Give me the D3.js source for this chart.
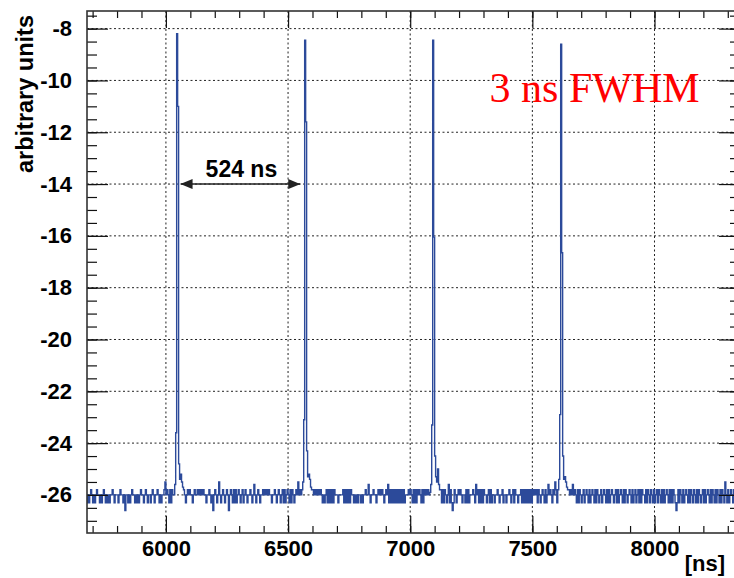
<!DOCTYPE html>
<html>
<head>
<meta charset="utf-8">
<script src="https://cdn.jsdelivr.net/npm/d3@7"></script>
<style>
  body { margin: 0; background: #fff; }
  svg { display: block; }
  .tick text { font-family: "Liberation Sans", Arial, sans-serif; font-weight: bold; font-size: 22px; fill: #000; }
</style>
</head>
<body>
<div id="plot-container"></div>
<script>
// histogram binning
var binStart = 5676;
var binWidth = 4;
var baseline = -26;

// baseline noise, in tenths of a unit above/below the baseline, one per bin
var noise = [
  -3,0,-3,0,2,0,-3,0,-3,0,2,0,0,-3,0,-3,0,2,0,-3,
  0,-3,0,-3,0,0,2,0,-3,0,0,0,-3,0,2,0,0,-3,0,-6,
  0,0,-3,0,-3,0,2,0,0,-3,0,-3,0,-3,0,2,0,0,-3,0,
  2,0,-3,0,0,-3,0,2,0,-3,0,0,2,0,-3,0,-3,0,0,2,
  5,0,2,0,-3,2,-3,2,0,-3,0,0,0,0,0,0,0,0,0,0,
  0,-3,0,2,0,2,0,0,-3,0,2,0,0,2,0,2,0,2,0,2,
  0,0,-3,0,0,2,0,-3,0,-6,0,2,0,-3,0,5,0,-3,0,2,
  0,-3,0,2,0,-6,0,2,0,-3,2,-3,2,-3,0,2,0,-3,0,2,
  -3,0,2,0,-3,0,0,2,0,-3,0,4,0,-3,0,2,0,-3,0,0,
  2,0,2,0,2,0,2,0,0,-3,0,0,2,0,-3,0,2,0,-3,0,
  2,-3,2,-3,0,2,0,-3,2,-3,2,0,-3,0,2,0,5,0,2,0,
  0,0,0,0,0,0,0,0,0,0,0,2,0,2,0,2,0,2,0,2,
  0,-3,0,-3,0,2,-3,2,-3,2,-3,2,-3,2,0,0,0,-3,0,0,
  0,0,2,-3,2,-3,2,-3,2,-3,2,0,0,-3,0,-3,0,-3,0,0,
  -3,0,-3,0,0,2,0,0,4,0,-3,0,0,2,0,0,-3,0,2,0,
  2,0,2,0,-3,0,2,0,4,-3,2,-3,2,-3,2,-3,2,-3,2,-3,
  2,-3,2,-3,2,-3,0,0,0,2,0,2,0,-3,2,-3,2,-3,2,0,
  2,0,-3,2,-3,2,0,2,0,2,0,0,0,0,0,0,0,0,0,0,
  0,0,2,-3,2,-3,2,0,-3,0,4,-3,2,-3,-6,-3,2,0,-3,0,
  2,0,2,0,-3,0,0,-3,2,-3,2,-3,0,0,0,2,0,-3,4,0,
  2,-3,2,-3,2,-3,2,0,0,-3,0,2,-3,2,-3,0,0,-3,0,0,
  2,0,-3,0,0,2,-3,0,0,-3,0,0,2,0,-3,0,2,-3,2,0,
  0,-3,0,0,2,-3,2,-3,2,-3,2,-3,2,-3,2,-3,2,0,2,0,
  2,-3,2,0,-3,0,2,0,-3,2,-3,0,4,0,2,0,-3,2,0,5,
  2,-3,0,0,0,0,0,0,0,0,0,0,0,2,0,2,0,4,0,2,
  0,-3,2,-3,2,0,-3,0,2,-3,0,2,0,-3,2,-3,0,2,0,-3,
  2,-3,2,0,-3,0,2,-3,0,2,0,-3,2,-3,2,-3,0,2,0,-3,
  0,2,-3,2,-3,0,2,0,-3,2,-3,2,0,-3,0,2,0,-3,2,-3,
  0,2,-3,0,2,-3,2,-3,2,0,0,-3,2,-3,2,0,-3,2,0,-3,
  2,-3,0,2,-3,2,0,-3,2,-3,2,-3,0,2,0,-3,2,-3,2,-3,
  2,0,-3,-6,-3,2,-3,2,0,-3,2,-3,0,2,0,-3,2,-3,2,0,
  -3,2,0,-3,2,-3,2,0,-3,0,2,-3,2,-3,0,2,0,-3,2,-3,
  2,0,-3,2,-3,2,0,-3,2,-3,2,0,-3,5,0,-3,2,-3,0,2,
  0,-3,2,0,-3,2,0,-3,0,2
];

// pulses: bin of each maximum, and the values of bins (max-3 .. max+7)
var peakBins = [92, 223, 354, 485];
var peak1 = [-26.0, -25.6, -23.6, -8.2, -11.0, -24.8, -25.4, -25.2, -25.5, -25.7, -25.8];
var peak2 = [-25.8, -25.5, -23.1, -8.45, -11.6, -24.3, -25.3, -25.2, -25.4, -25.7, -25.8];
var peak3 = [-25.9, -25.6, -23.3, -8.45, -16.05, -24.5, -25.3, -25.5, -25.0, -25.6, -25.8];
var peak4 = [-25.8, -25.4, -22.9, -8.6, -16.65, -24.5, -25.4, -25.3, -25.5, -25.7, -25.8];
var peakShapes = [peak1, peak2, peak3, peak4];

// axes
var xDomain = [5677, 8350];
var yDomain = [-27.47, -7.32];
var xMajor = [6000, 6500, 7000, 7500, 8000];
var xMinor = d3.range(5700, 8400, 100);
var yMajor = [-26, -24, -22, -20, -18, -16, -14, -12, -10, -8];
var yMinor = d3.range(-27, -7, 0.5);

// annotations
var arrowFrom = 6060, arrowTo = 6550, arrowAt = -14;
var arrowLabel = "524 ns";
var fwhmLabel = "3 ns FWHM";
var fwhmX = 7325, fwhmY = -10.84;

var W = 734, H = 578;
var frameL = 87, frameR = 740, frameT = 11, frameB = 533;

var svg = d3.select("#plot-container")
  .append("svg")
  .attr("width", W)
  .attr("height", H);

var x = d3.scaleLinear().domain(xDomain).range([frameL, frameR]);
var y = d3.scaleLinear().domain(yDomain).range([frameB, frameT]);

// build bin values
var values = noise.map(function(n){ return baseline + n / 10; });
peakBins.forEach(function(p, k){
  peakShapes[k].forEach(function(v, j){ values[p - 3 + j] = v; });
});
var points = values.map(function(v, i){ return [binStart + i * binWidth, v]; });
points.push([binStart + values.length * binWidth, values[values.length - 1]]);

var defs = svg.append("defs");
defs.append("clipPath").attr("id", "frame")
  .append("rect")
  .attr("x", frameL).attr("y", frameT)
  .attr("width", frameR - frameL).attr("height", frameB - frameT);

// grid
var grid = svg.append("g").attr("stroke", "#222").attr("stroke-width", 1)
  .attr("stroke-dasharray", "2,2.5");
grid.selectAll(".gx").data(xMajor).enter().append("line")
  .attr("x1", function(d){ return x(d); }).attr("x2", function(d){ return x(d); })
  .attr("y1", frameT).attr("y2", frameB);
grid.selectAll(".gy").data(yMajor).enter().append("line")
  .attr("x1", frameL).attr("x2", frameR)
  .attr("y1", function(d){ return y(d); }).attr("y2", function(d){ return y(d); });

// histogram
var line = d3.line()
  .x(function(d){ return x(d[0]); })
  .y(function(d){ return y(d[1]); })
  .curve(d3.curveStepAfter);

svg.append("path")
  .datum(points)
  .attr("clip-path", "url(#frame)")
  .attr("fill", "none")
  .attr("stroke", "#2c4a9a")
  .attr("stroke-width", 1.4)
  .attr("d", line);

// axes with inward ticks
function addAxis(axis, tx, ty){
  var g = svg.append("g").attr("transform", "translate(" + tx + "," + ty + ")").call(axis);
  g.select(".domain").remove();
  g.selectAll(".tick line").attr("stroke", "#111").attr("stroke-width", 1.2);
  return g;
}
addAxis(d3.axisBottom(x).tickValues(xMajor).tickSize(-17).tickPadding(7).tickFormat(d3.format("d")), 0, frameB);
addAxis(d3.axisBottom(x).tickValues(xMinor).tickSize(-7).tickFormat(""), 0, frameB);
addAxis(d3.axisTop(x).tickValues(xMajor).tickSize(-17).tickFormat(""), 0, frameT);
addAxis(d3.axisTop(x).tickValues(xMinor).tickSize(-7).tickFormat(""), 0, frameT);
addAxis(d3.axisLeft(y).tickValues(yMajor).tickSize(-21).tickPadding(15).tickFormat(d3.format("d")), frameL, 0);
addAxis(d3.axisLeft(y).tickValues(yMinor).tickSize(-10).tickFormat(""), frameL, 0);
addAxis(d3.axisRight(y).tickValues(yMajor).tickSize(-21).tickFormat(""), frameR, 0);
addAxis(d3.axisRight(y).tickValues(yMinor).tickSize(-10).tickFormat(""), frameR, 0);
svg.selectAll(".tick text").text(function(){ return this.textContent.replace("\u2212", "-"); });

// frame
svg.append("rect")
  .attr("x", frameL).attr("y", frameT)
  .attr("width", frameR - frameL).attr("height", frameB - frameT)
  .attr("fill", "none").attr("stroke", "#333").attr("stroke-width", 1.6);

// axis titles
svg.append("text")
  .attr("transform", "translate(33,15) rotate(-90)")
  .attr("text-anchor", "end")
  .style("font-family", "'Liberation Sans', Arial, sans-serif")
  .style("font-weight", "bold").style("font-size", "23.5px")
  .text("arbitrary units");

svg.append("text")
  .attr("x", 725).attr("y", 571)
  .attr("text-anchor", "end")
  .style("font-family", "'Liberation Sans', Arial, sans-serif")
  .style("font-weight", "bold").style("font-size", "22px")
  .text("[ns]");

// arrow
defs.append("marker").attr("id", "head")
  .attr("viewBox", "0 0 12 10").attr("refX", 12).attr("refY", 5)
  .attr("markerWidth", 12).attr("markerHeight", 10)
  .attr("markerUnits", "userSpaceOnUse")
  .attr("orient", "auto-start-reverse")
  .append("path").attr("d", "M0,0 L12,5 L0,10 Z").attr("fill", "#222");

svg.append("line")
  .attr("x1", x(arrowFrom)).attr("x2", x(arrowTo))
  .attr("y1", y(arrowAt)).attr("y2", y(arrowAt))
  .attr("stroke", "#222").attr("stroke-width", 1.5)
  .attr("marker-start", "url(#head)").attr("marker-end", "url(#head)");

svg.append("text")
  .attr("x", x((arrowFrom + arrowTo) / 2) + 1).attr("y", y(arrowAt) - 7)
  .attr("text-anchor", "middle")
  .style("font-family", "'Liberation Sans', Arial, sans-serif")
  .style("font-weight", "bold").style("font-size", "23px")
  .text(arrowLabel);

svg.append("text")
  .attr("x", x(fwhmX)).attr("y", y(fwhmY))
  .style("font-family", "'Liberation Serif', 'Times New Roman', serif")
  .style("font-size", "42px").attr("fill", "#ff0000")
  .text(fwhmLabel);
</script>
</body>
</html>
